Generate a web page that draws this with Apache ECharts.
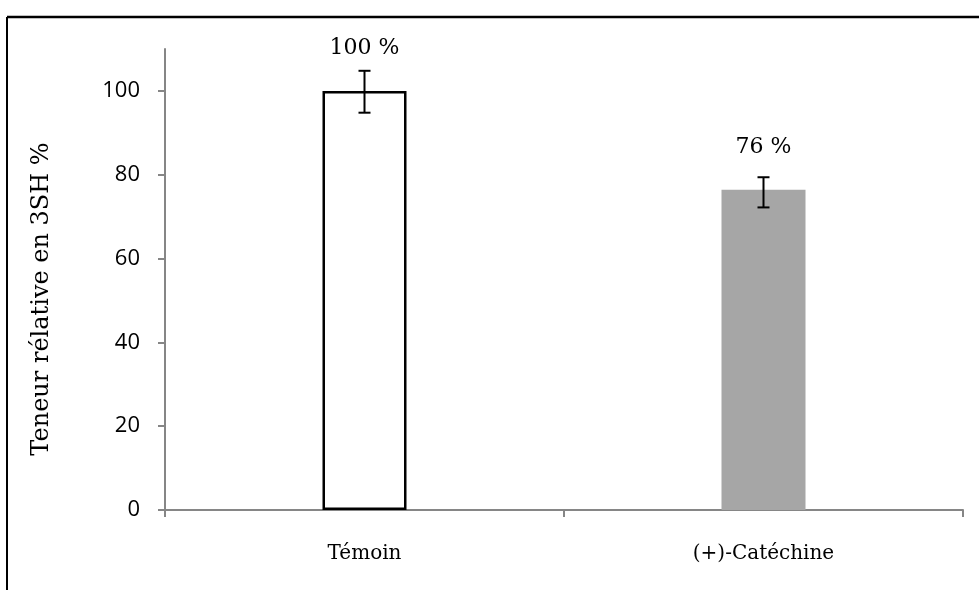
<!DOCTYPE html>
<html>
<head>
<meta charset="utf-8">
<script src="https://cdn.jsdelivr.net/npm/echarts@6/dist/echarts.min.js"></script>
<style>
  html, body { margin: 0; padding: 0; background: #fff; }
  #chart { width: 979px; height: 590px; }
</style>
</head>
<body>
<div id="chart"></div>
<script>
// données
const categories = ['Témoin', '(+)-Catéchine']
const values = [100, 76.4]
const errLow = [94.8, 72.2]
const errHigh = [104.8, 79.4]
const valueLabels = ['100 %', '76 %']
const yTicks = [0, 20, 40, 60, 80, 100]

const barColors = ['#ffffff', '#a6a6a6']
const serif = '"DejaVu Serif", "Liberation Serif", serif'
const sans = '"Open Sans", "Liberation Sans", sans-serif'
const axisGray = '#868686'

const chart = echarts.init(document.getElementById('chart'))

chart.setOption({
  animation: false,
  grid: { left: 165, right: 16, top: 49, bottom: 80 },
  xAxis: {
    type: 'category',
    data: categories,
    axisLine: { lineStyle: { color: axisGray, width: 2 } },
    axisTick: { show: true, length: 7, lineStyle: { color: axisGray, width: 2 } },
    axisLabel: { color: '#000', fontFamily: serif, fontSize: 20, margin: 34 }
  },
  yAxis: {
    type: 'value',
    min: 0,
    max: 110,
    interval: 10,
    axisLine: { show: true, lineStyle: { color: axisGray, width: 2 } },
    axisTick: { show: true, length: 7, customValues: yTicks, lineStyle: { color: axisGray, width: 2 } },
    axisLabel: { color: '#000', fontFamily: sans, fontSize: 22, margin: 25, customValues: yTicks },
    splitLine: { show: false }
  },
  series: [
    {
      type: 'bar',
      barWidth: 84,
      data: values.map((v, i) => ({
        value: v,
        itemStyle: {
          color: barColors[i],
          borderColor: i === 0 ? '#000' : barColors[i],
          borderWidth: i === 0 ? 2.5 : 0
        }
      })),
      label: {
        show: true,
        position: 'top',
        distance: 32,
        color: '#000',
        fontFamily: serif,
        fontSize: 22,
        formatter: p => valueLabels[p.dataIndex]
      },
      z: 2
    },
    {
      // barres d'erreur
      type: 'custom',
      data: categories.map((c, i) => [i, errLow[i], errHigh[i]]),
      renderItem: (params, api) => {
        const lo = api.coord([api.value(0), api.value(1)])
        const hi = api.coord([api.value(0), api.value(2)])
        const half = 6
        const style = { stroke: '#000', lineWidth: 2 }
        return {
          type: 'group',
          children: [
            { type: 'line', shape: { x1: lo[0], y1: lo[1], x2: hi[0], y2: hi[1] }, style },
            { type: 'line', shape: { x1: hi[0] - half, y1: hi[1], x2: hi[0] + half, y2: hi[1] }, style },
            { type: 'line', shape: { x1: lo[0] - half, y1: lo[1], x2: lo[0] + half, y2: lo[1] }, style }
          ]
        }
      },
      z: 5
    }
  ],
  graphic: [
    // cadre du graphique (coupé à droite et en bas)
    { type: 'line', shape: { x1: 7, y1: 17, x2: 979, y2: 17 }, style: { stroke: '#000', lineWidth: 2.5 } },
    { type: 'line', shape: { x1: 7, y1: 17, x2: 7, y2: 590 }, style: { stroke: '#000', lineWidth: 2 } },
    // titre de l'axe des ordonnées
    {
      type: 'text',
      x: 42,
      y: 299,
      rotation: Math.PI / 2,
      style: {
        text: 'Teneur rélative en 3SH %',
        font: '24px ' + serif,
        fill: '#000',
        align: 'center',
        verticalAlign: 'middle'
      }
    }
  ]
})
</script>
</body>
</html>
